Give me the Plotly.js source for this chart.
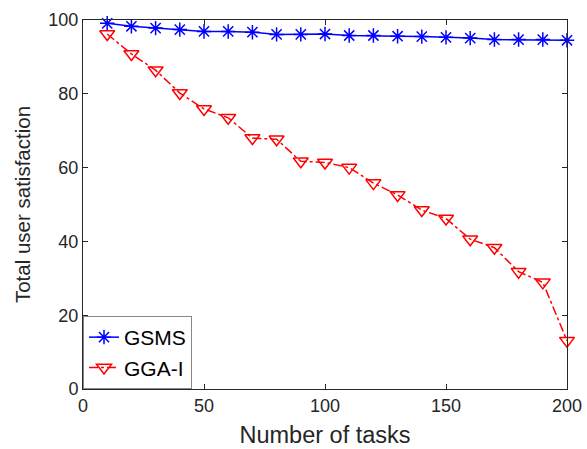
<!DOCTYPE html>
<html>
<head>
<meta charset="utf-8">
<script src="https://cdn.plot.ly/plotly-3.0.1.min.js"></script>
<style>html,body{margin:0;padding:0;background:#fff;}#chart{width:587px;height:449px;}</style>
</head>
<body>
<div id="chart"></div>
<script>
const tasks = [10,20,30,40,50,60,70,80,90,100,110,120,130,140,150,160,170,180,190,200];
const gsms = [99.1,98.3,97.8,97.4,96.9,96.9,96.7,96.1,96.1,96.2,95.8,95.8,95.6,95.5,95.3,95.1,94.7,94.7,94.7,94.5];
const ggaI = [96.2,90.8,86.4,80.2,75.9,73.5,68.0,67.7,61.7,61.4,60.0,55.8,52.6,48.5,46.2,40.6,38.3,31.8,28.9,13.1];
const xTicks = [0,50,100,150,200];
const yTicks = [0,20,40,60,80,100];

const font = "Liberation Sans, Arial, Helvetica, sans-serif";
const data = [
  {x: tasks, y: gsms, name: 'GSMS', type: 'scatter', mode: 'lines+markers', cliponaxis: false,
   line: {color: '#0000ff', width: 1.5},
   marker: {symbol: 'asterisk-open', size: 12, color: '#0000ff', line: {color: '#0000ff', width: 1.5}}},
  {x: tasks, y: ggaI, name: 'GGA-I', type: 'scatter', mode: 'lines+markers', cliponaxis: false,
   line: {color: '#ff0000', width: 1.5, dash: 'dashdot'},
   marker: {symbol: 'triangle-down-open', size: 13, color: '#ff0000', line: {color: '#ff0000', width: 1.5}}}
];
const axisCommon = {
  showgrid: false, zeroline: false, showline: true, mirror: 'ticks',
  linecolor: '#262626', linewidth: 1, ticks: 'inside', ticklen: 5, tickcolor: '#262626',
  tickfont: {family: font, size: 18, color: '#262626'}
};
const layout = {
  width: 587, height: 449,
  margin: {l: 83, r: 20, t: 20, b: 60},
  paper_bgcolor: '#fff', plot_bgcolor: '#fff',
  showlegend: true,
  legend: {x: 0, y: 0, xanchor: 'left', yanchor: 'bottom', bgcolor: '#fff',
    bordercolor: '#888', borderwidth: 1, font: {family: font, size: 21, color: '#000'},
    tracegroupgap: 0, itemwidth: 30},
  xaxis: Object.assign({}, axisCommon, {range: [0, 200], tickvals: xTicks,
    title: {text: 'Number of tasks', font: {family: font, size: 23.5, color: '#262626'}, standoff: 11}}),
  yaxis: Object.assign({}, axisCommon, {range: [0, 100], tickvals: yTicks,
    title: {text: 'Total user satisfaction', font: {family: font, size: 20.5, color: '#262626'}, standoff: 12}})
};
Plotly.newPlot('chart', data, layout, {displayModeBar: false, staticPlot: true});
</script>
</body>
</html>
